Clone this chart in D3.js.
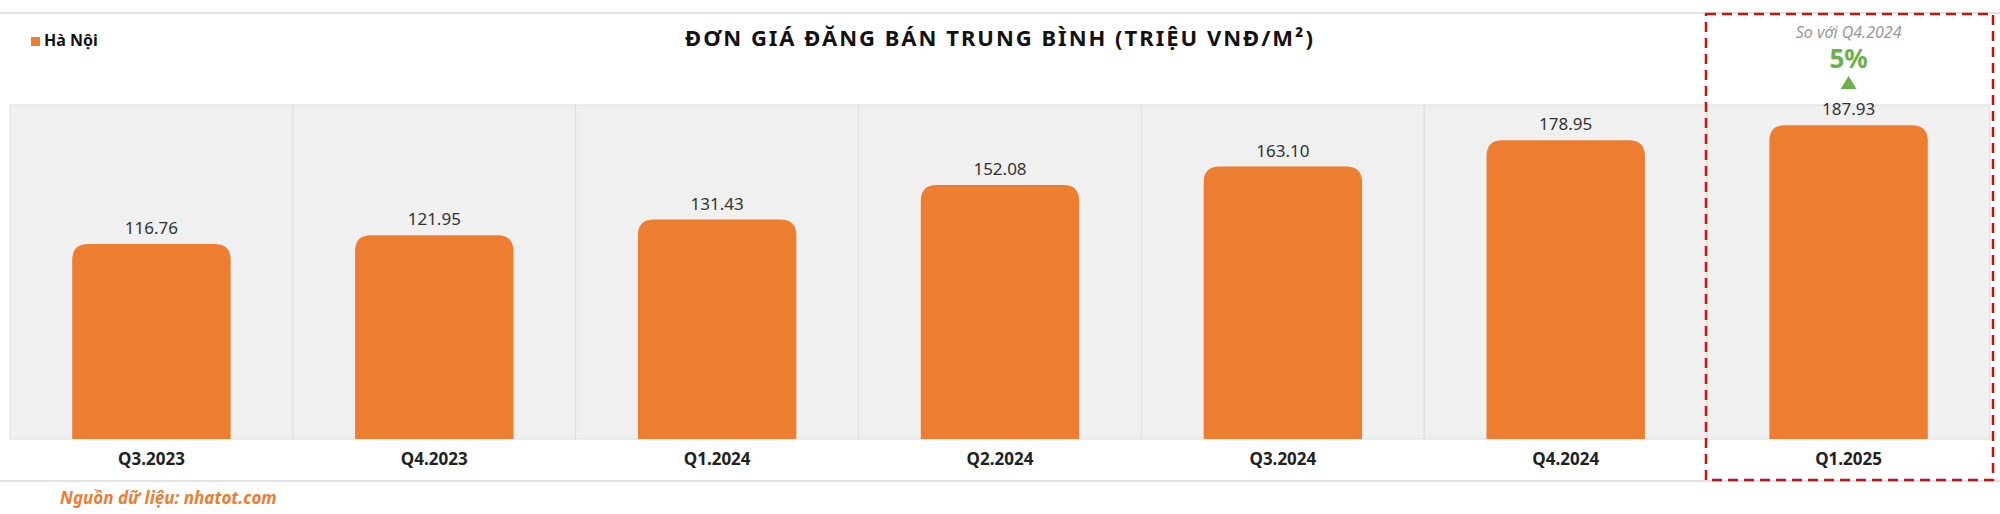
<!DOCTYPE html>
<html>
<head>
<meta charset="utf-8">
<script src="https://cdn.jsdelivr.net/npm/d3@7"></script>
<style>
  body { margin: 0; background: #fff; }
  text { font-family: "Noto Sans", sans-serif; }
</style>
</head>
<body>
<div id="chart"></div>
<script>
// data
var quarters = ["Q3.2023", "Q4.2023", "Q1.2024", "Q2.2024", "Q3.2024", "Q4.2024", "Q1.2025"];
var prices = [116.76, 121.95, 131.43, 152.08, 163.10, 178.95, 187.93];
var seriesName = "Hà Nội";
var compareLabel = "So với Q4.2024";
var compareValue = "5%";

var W = 2000, H = 514;
var svg = d3.select("#chart").append("svg")
    .attr("width", W).attr("height", H);

// lines top/bottom
svg.append("line").attr("x1", 0).attr("x2", W).attr("y1", 13).attr("y2", 13)
    .attr("stroke", "#e2e2e2").attr("stroke-width", 2);
svg.append("line").attr("x1", 0).attr("x2", W).attr("y1", 481).attr("y2", 481)
    .attr("stroke", "#e2e2e2").attr("stroke-width", 2);

var x = d3.scaleBand().domain(quarters).range([10, 1990]).padding(0);
var y = d3.scaleLinear().domain([0, 200]).range([439, 105]);

// panel background per band
svg.append("g").selectAll("rect").data(quarters).enter().append("rect")
    .attr("x", function (d) { return x(d); })
    .attr("y", y(200))
    .attr("width", x.bandwidth())
    .attr("height", y(0) - y(200))
    .attr("fill", "#f0f0f0")
    .attr("stroke", "#dedede").attr("stroke-width", 1);

// bars with rounded top
var bw = x.bandwidth() * 0.56, r = 16;
svg.append("g").selectAll("path").data(prices).enter().append("path")
    .attr("fill", "#ED7D31")
    .attr("d", function (d, i) {
        var x0 = x(quarters[i]) + (x.bandwidth() - bw) / 2, x1 = x0 + bw;
        var yt = y(d), yb = y(0);
        return "M" + x0 + "," + yb + "L" + x0 + "," + (yt + r) +
            "Q" + x0 + "," + yt + " " + (x0 + r) + "," + yt +
            "L" + (x1 - r) + "," + yt +
            "Q" + x1 + "," + yt + " " + x1 + "," + (yt + r) +
            "L" + x1 + "," + yb + "Z";
    });

// value labels
svg.append("g").selectAll("text").data(prices).enter().append("text")
    .attr("x", function (d, i) { return x(quarters[i]) + x.bandwidth() / 2; })
    .attr("y", function (d) { return y(d) - 10; })
    .attr("text-anchor", "middle")
    .attr("font-size", 17).attr("fill", "#333")
    .text(function (d) { return d.toFixed(2); });

// category axis
var ax = svg.append("g").attr("transform", "translate(0,439)")
    .call(d3.axisBottom(x).tickSize(0).tickPadding(14));
ax.select(".domain").remove();
ax.selectAll("text").attr("font-size", 17).attr("font-weight", "bold")
    .attr("fill", "#222").attr("font-family", "Noto Sans, sans-serif");

// title
svg.append("text").attr("x", 1000).attr("y", 46).attr("text-anchor", "middle")
    .attr("font-size", 22).attr("font-weight", "bold").attr("letter-spacing", 2)
    .attr("fill", "#111").text("ĐƠN GIÁ ĐĂNG BÁN TRUNG BÌNH (TRIỆU VNĐ/M²)");

// legend
svg.append("rect").attr("x", 31).attr("y", 37).attr("width", 9).attr("height", 9)
    .attr("fill", "#ED7D31");
svg.append("text").attr("x", 44).attr("y", 46).attr("font-size", 16)
    .attr("font-weight", "bold").attr("fill", "#111").text(seriesName);

// highlight box
var last = quarters[quarters.length - 1];
var cx = x(last) + x.bandwidth() / 2;
svg.append("rect").attr("x", 1706).attr("y", 14).attr("width", 287).attr("height", 466)
    .attr("fill", "none").attr("stroke", "#cc1111").attr("stroke-width", 2.5)
    .attr("stroke-dasharray", "10,6");
svg.append("text").attr("x", cx).attr("y", 38).attr("text-anchor", "middle")
    .attr("font-size", 16).attr("font-style", "italic").attr("fill", "#999").text(compareLabel);
svg.append("text").attr("x", cx).attr("y", 68).attr("text-anchor", "middle")
    .attr("font-size", 26).attr("font-weight", "bold").attr("fill", "#6ab04c").text(compareValue);
svg.append("path").attr("d", "M" + (cx - 8) + ",89L" + (cx + 8) + ",89L" + cx + ",76Z")
    .attr("fill", "#6ab04c");

// source
svg.append("text").attr("x", 60).attr("y", 504).attr("font-size", 17)
    .attr("font-weight", "bold").attr("font-style", "italic").attr("fill", "#ED7D31")
    .text("Nguồn dữ liệu: nhatot.com");
</script>
</body>
</html>
